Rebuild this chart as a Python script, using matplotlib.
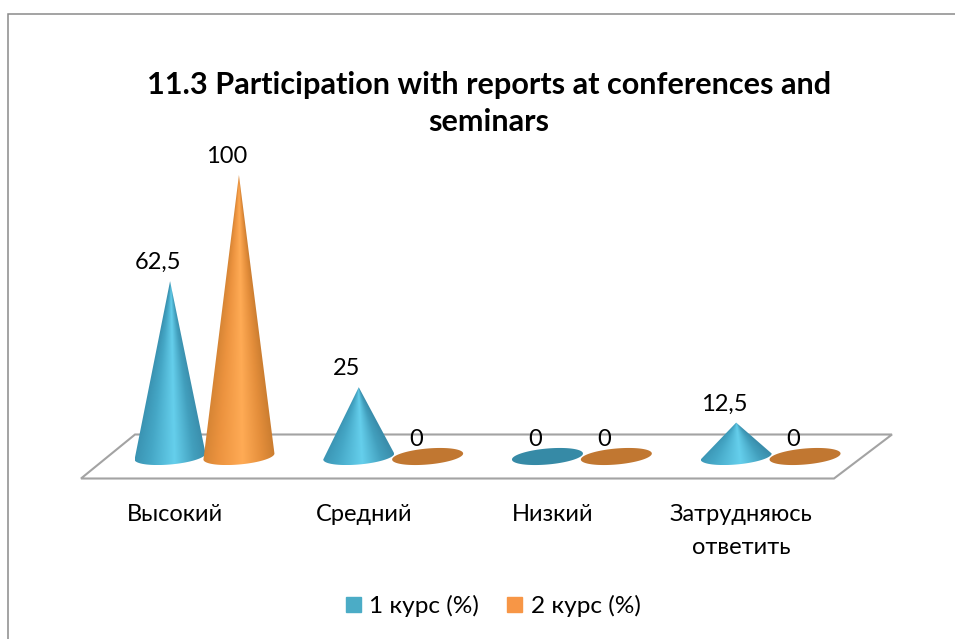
import numpy as np
import matplotlib
matplotlib.use("Agg")
import matplotlib.pyplot as plt
from matplotlib.patches import Patch, Polygon
from matplotlib.lines import Line2D
from matplotlib.colors import to_rgb
from matplotlib.transforms import IdentityTransform

title = "11.3 Participation with reports at conferences and\nseminars"
categories = ["Высокий", "Средний", "Низкий", "Затрудняюсь\nответить"]
series_names = ["1 курс (%)", "2 курс (%)"]
course_1 = [62.5, 25, 0, 12.5]
course_2 = [100, 0, 0, 0]
labels_1 = ["62,5", "25", "0", "12,5"]
labels_2 = ["100", "0", "0", "0"]

W, H = 955, 639
PX_X, PX_Y = 188.7, 2.83      # pixels per category, pixels per percent
X0, Y0 = 204.5, 458.0         # pixel position of category 0 / value 0
OFFSET = 0.1825               # half the distance between paired cones
HALF_W = 35.5 / PX_X
HALF_H = 8.0 / PX_Y
TILT = 3.0 / PX_Y             # rise of the base ellipse at its right end
BASE = 1.5 / PX_Y             # base centre relative to value 0

plt.rcParams['font.family'] = ['Lato', 'Noto Sans', 'DejaVu Sans']
fig = plt.figure(figsize=(W / 100, H / 100), dpi=100, facecolor='white')
ax = fig.add_axes([0, 0, 1, 1])
ax.set_xlim(-X0 / PX_X, (W - X0) / PX_X)
ax.set_ylim((Y0 - H) / PX_Y, Y0 / PX_Y)
ax.axis('off')


def px(points):
    """Top-left pixel coordinates -> display coordinates."""
    return [(x, H - y) for x, y in points]


# chart frame (open at right and bottom, as cropped in the reference)
frame = [(8, 639), (8, 13.5), (955, 13.5)]
ax.add_line(Line2D(*zip(*px(frame)), transform=IdentityTransform(),
                   color='#8a8a8a', lw=1.1, solid_joinstyle='miter'))

# floor of the 3-D plot
floor = [(81, 478.5), (834, 478.5), (892, 434.5), (135, 434.5)]
ax.add_patch(Polygon(px(floor), closed=True, transform=IdentityTransform(),
                     fill=False, edgecolor='#a3a3a3', lw=1.5, zorder=1))


def cone(x, value, stops, flat):
    t = np.linspace(0, 2 * np.pi, 160)
    ex = x + HALF_W * np.cos(t)
    ey = BASE + HALF_H * np.sin(t) + TILT * np.cos(t)
    if value == 0:
        ax.fill(ex, ey, color=flat, lw=0, zorder=3)
        return
    low = np.linspace(np.pi, 2 * np.pi, 80)
    lx = x + HALF_W * np.cos(low)
    ly = BASE + HALF_H * np.sin(low) + TILT * np.cos(low)
    vx = np.r_[lx, x]
    vy = np.r_[ly, value]
    poly = Polygon(np.c_[vx, vy], closed=True, transform=ax.transData,
                   fc='none', ec='none')
    ax.add_patch(poly)
    # conic shading: the light band narrows towards the apex
    bottom = vy.min()
    ys = np.linspace(value, bottom, 300)
    xs = np.linspace(x - HALF_W, x + HALF_W, 200)
    X, Y = np.meshgrid(xs, ys)
    half = np.maximum(HALF_W * (value - Y) / (value - BASE), 1e-6)
    u = np.clip(0.5 + (X - x) / (2 * half), 0, 1)
    pos = [0, .22, .55, .82, 1]
    img = np.stack([np.interp(u, pos, [to_rgb(c)[i] for c in stops])
                    for i in range(3)], axis=-1)
    im = ax.imshow(img, extent=(x - HALF_W, x + HALF_W, bottom, value),
                   aspect='auto', zorder=3, interpolation='bilinear')
    im.set_clip_path(poly)


BLUE = ['#3a93b2', '#45a7c6', '#65cfec', '#429fbd', '#3a8dab']
ORANGE = ['#d58434', '#ec933f', '#ffab55', '#e48e3b', '#cb7d30']

for i in range(len(categories)):
    for x, v, lab, stops, flat in (
        (i - OFFSET, course_1[i], labels_1[i], BLUE, '#368aa6'),
        (i + OFFSET, course_2[i], labels_2[i], ORANGE, '#c17731'),
    ):
        cone(x, v, stops, flat)
        ax.annotate(lab, (x, v), xytext=(-12 * .72, 18.5 * .72),
                    textcoords='offset points', ha='center', va='center',
                    fontsize=17, color='black', zorder=5)

for i, c in enumerate(categories):
    ax.annotate(c, (i, 0), xycoords='data', xytext=(-29.5 * .72, -46 * .72),
                textcoords='offset points', ha='center', va='top',
                fontsize=17, color='black', linespacing=1.7)

fig.text(489 / W, 1 - 103.5 / H, title, ha='center', va='center',
         fontsize=22.1, fontweight='bold', color='black', linespacing=1.42)

handles = [Patch(color='#4bacc6', label=series_names[0]),
           Patch(color='#f79646', label=series_names[1])]
fig.legend(handles=handles, loc='center', bbox_to_anchor=(493 / W, 1 - 606 / H),
           ncol=2, frameon=False, fontsize=17.6, handlelength=0.62,
           handleheight=0.62, handletextpad=0.34, columnspacing=1.15)

fig.savefig('out.png', dpi=100, facecolor='white')
